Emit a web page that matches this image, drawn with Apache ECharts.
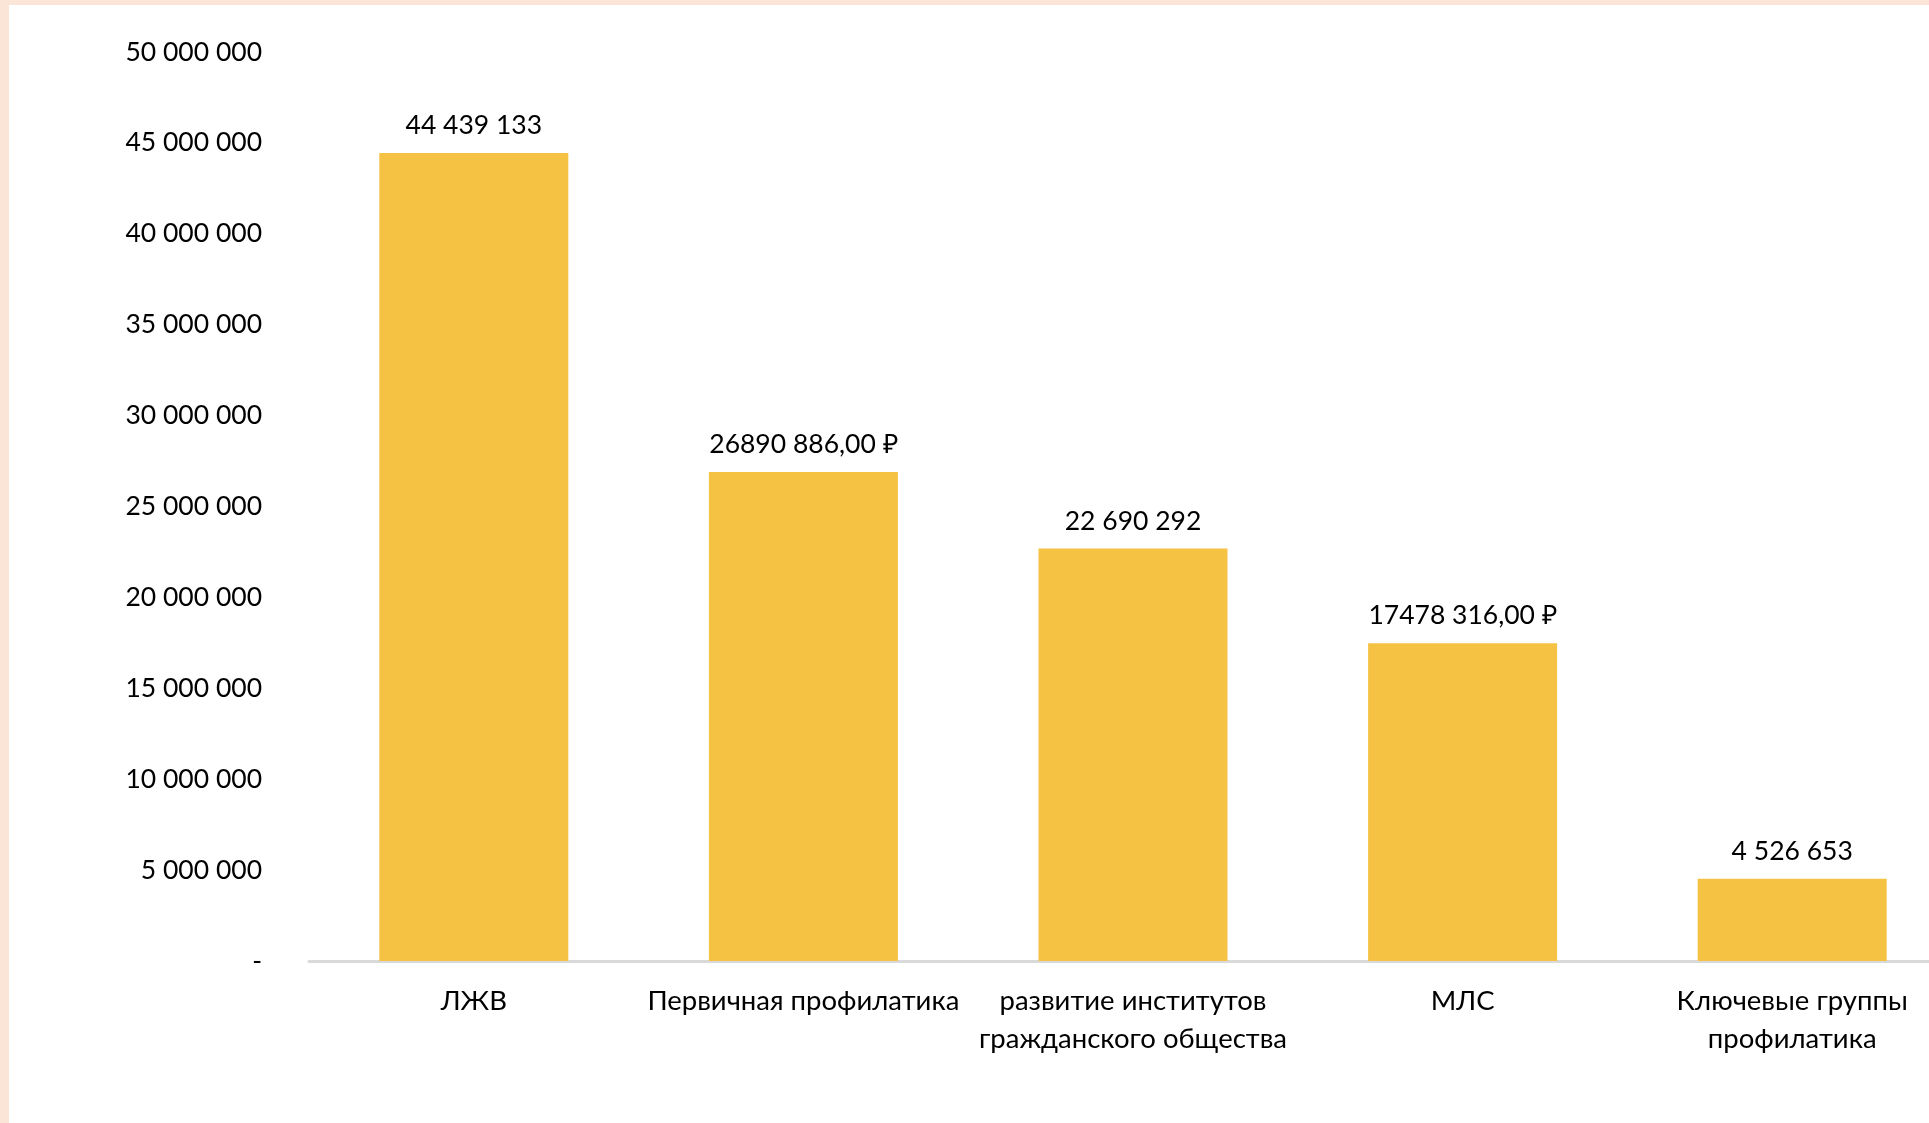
<!DOCTYPE html>
<html>
<head>
<meta charset="utf-8">
<script src="https://cdn.jsdelivr.net/npm/echarts@6/dist/echarts.min.js"></script>
<style>
  html, body { margin: 0; padding: 0; background: #ffffff; }
  #chart { position: absolute; left: 0; top: 0; width: 1929px; height: 1123px; }
  #btop { position: absolute; left: 0; top: 0; width: 1929px; height: 5px; background: #FBE5D6; }
  #bleft { position: absolute; left: 0; top: 0; width: 9px; height: 1123px; background: #FBE5D6; }
</style>
</head>
<body>
<div id="chart"></div>
<div id="btop"></div>
<div id="bleft"></div>
<script>
const categories = [
  'ЛЖВ',
  'Первичная профилатика',
  'развитие институтов\nгражданского общества',
  'МЛС',
  'Ключевые группы\nпрофилатика'
];
const values = [44439133, 26890886, 22690292, 17478316, 4526653];
const valueLabels = ['44 439 133', '26890 886,00 ₽', '22 690 292', '17478 316,00 ₽', '4 526 653'];
const yMin = 0, yMax = 50000000, yStep = 5000000;

function fmt(v) {
  if (v === 0) return '-';
  return String(v).replace(/\B(?=(\d{3})+(?!\d))/g, ' ');
}

const chart = echarts.init(document.getElementById('chart'));
const FONT = 'Lato';
chart.setOption({
  animation: false,
  backgroundColor: 'transparent',
  grid: { left: 309, width: 1648, top: 52, bottom: 162, containLabel: false, outerBoundsMode: 'none' },
  xAxis: {
    type: 'category',
    data: categories,
    axisLine: { lineStyle: { color: '#D9D9D9', width: 3 } },
    axisTick: { show: false },
    axisLabel: { color: '#000', fontFamily: FONT, fontSize: 27.5, lineHeight: 38, margin: 21, interval: 0, hideOverlap: false }
  },
  yAxis: {
    type: 'value',
    min: yMin, max: yMax, interval: yStep,
    axisLine: { show: false },
    axisTick: { show: false },
    splitLine: { show: false },
    axisLabel: { color: '#000', fontFamily: FONT, fontSize: 26.5, margin: 47, formatter: fmt }
  },
  series: [{
    type: 'bar',
    data: values,
    barWidth: 189,
    itemStyle: { color: '#F5C243' },
    label: {
      show: true,
      position: 'top',
      distance: 14,
      color: '#000',
      fontFamily: FONT,
      fontSize: 26.5,
      formatter: p => valueLabels[p.dataIndex]
    }
  }]
});
</script>
</body>
</html>
